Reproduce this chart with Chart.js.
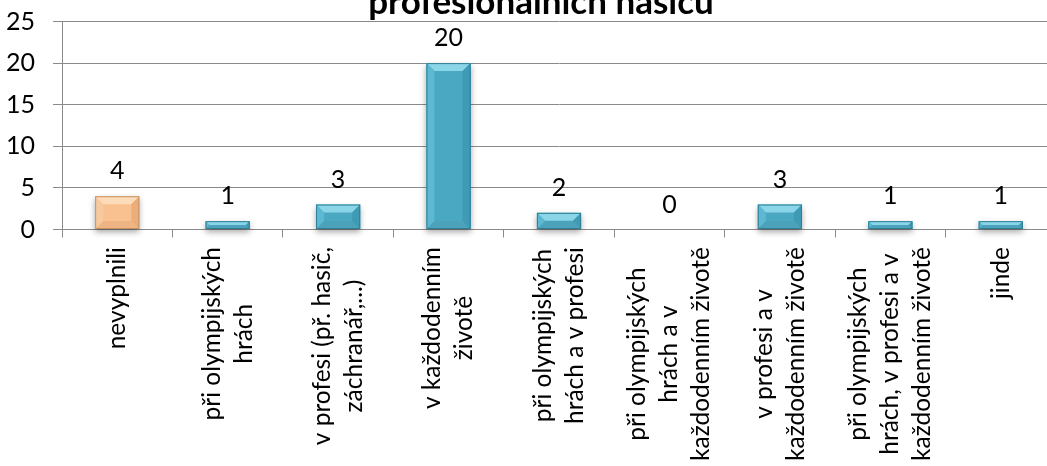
<!DOCTYPE html>
<html>
<head>
<meta charset="utf-8">
<style>
  html, body { margin: 0; padding: 0; background: #ffffff; overflow: hidden; width: 1047px; height: 466px; }
  #wrap { width: 1082px; height: 466px; }
  canvas { display: block; }
</style>
<script src="https://cdn.jsdelivr.net/npm/chart.js@4.4.0/dist/chart.umd.min.js"></script>
</head>
<body>
<div id="wrap"><canvas id="chart" width="1082" height="466"></canvas></div>
<script>
// Survey answers: where the respondents meet the work of professional firefighters
const titleText = 'profesionálních hasičů';

const categories = [
  'nevyplnili',
  ['při olympijských', 'hrách'],
  ['v profesi (př. hasič,', 'záchranář,...)'],
  ['v každodenním', 'životě'],
  ['při olympijských', 'hrách a v profesi'],
  ['při olympijských', 'hrách a v', 'každodenním životě'],
  ['v profesi a v', 'každodenním životě'],
  ['při olympijských', 'hrách, v profesi a v', 'každodenním životě'],
  'jinde'
];

const counts = [4, 1, 3, 20, 2, 0, 3, 1, 1];

const yTicks = [0, 5, 10, 15, 20, 25];

// Bevelled bar looks: the unanswered group is peach, all the rest aqua
const peach = { fill: '#F9C190', top: '#FDDCBA', left: '#F7C9A0', right: '#EBAE7B', bottom: '#EEB483', edge: '#C8925F' };
const aqua  = { fill: '#4AA8C2', top: '#8AD6E8', left: '#5CB9D1', right: '#3F9AB3', bottom: '#4CA2BA', edge: '#2E7F95' };
const barStyles = counts.map((v, i) => (i === 0 ? peach : aqua));

const FONT = 'Lato';
const GRID = '#8a8a8a';

function poly(ctx, pts, color) {
  ctx.beginPath();
  ctx.moveTo(pts[0][0], pts[0][1]);
  for (let k = 1; k < pts.length; k++) ctx.lineTo(pts[k][0], pts[k][1]);
  ctx.closePath();
  ctx.fillStyle = color;
  ctx.fill();
}

// title line, centred on the canvas; its upper part runs off the top edge
const titlePlugin = {
  id: 'topTitle',
  afterDraw(chart) {
    const ctx = chart.ctx;
    ctx.save();
    ctx.font = 'bold 35px ' + FONT;
    ctx.fillStyle = '#000';
    ctx.textAlign = 'center';
    ctx.textBaseline = 'alphabetic';
    ctx.fillText(titleText, chart.width / 2, 13.5);
    ctx.restore();
  }
};

// soft drop shadow under the bars
const shadowPlugin = {
  id: 'barShadow',
  beforeDatasetDraw(chart) {
    const ctx = chart.ctx;
    ctx.save();
    ctx.shadowColor = 'rgba(0,0,0,0.35)';
    ctx.shadowBlur = 6;
    ctx.shadowOffsetY = 3;
  },
  afterDatasetDraw(chart) {
    chart.ctx.restore();
  }
};

// bevel faces, outline and value labels on top of each bar
const bevelPlugin = {
  id: 'bevel',
  afterDatasetsDraw(chart) {
    const ctx = chart.ctx;
    const meta = chart.getDatasetMeta(0);
    ctx.save();
    meta.data.forEach((bar, i) => {
      const { x, y, base, width } = bar.getProps(['x', 'y', 'base', 'width'], true);
      const L = x - width / 2, R = x + width / 2;
      const T = Math.min(y, base), B = Math.max(y, base);
      const h = B - T;
      if (h > 0.5) {
        const st = barStyles[i];
        const b = Math.min(8, h / 2, width / 2);
        poly(ctx, [[L, T], [R, T], [R - b, T + b], [L + b, T + b]], st.top);
        poly(ctx, [[L, B], [R, B], [R - b, B - b], [L + b, B - b]], st.bottom);
        poly(ctx, [[L, T], [L + b, T + b], [L + b, B - b], [L, B]], st.left);
        poly(ctx, [[R, T], [R - b, T + b], [R - b, B - b], [R, B]], st.right);
        ctx.strokeStyle = st.edge;
        ctx.lineWidth = 1;
        ctx.strokeRect(L + 0.5, T + 0.5, width - 1, h - 1);
      }
      ctx.fillStyle = '#000';
      ctx.font = '25px ' + FONT;
      ctx.textAlign = 'center';
      ctx.textBaseline = 'alphabetic';
      ctx.fillText(String(counts[i]), x, y - 17);
    });
    ctx.restore();
  }
};

// vertical category labels, lines centred on each other
const xLabelPlugin = {
  id: 'xLabels',
  afterDraw(chart) {
    const ctx = chart.ctx;
    const xs = chart.scales.x;
    ctx.save();
    ctx.font = '24.5px ' + FONT;
    ctx.fillStyle = '#000';
    ctx.textAlign = 'center';
    ctx.textBaseline = 'middle';
    categories.forEach((lab, i) => {
      const lines = Array.isArray(lab) ? lab : [lab];
      const w = Math.max(...lines.map(l => ctx.measureText(l).width));
      const cx = xs.getPixelForValue(i);
      const cy = xs.top + 17.5 + w / 2;
      ctx.save();
      ctx.translate(cx, cy);
      ctx.rotate(-Math.PI / 2);
      lines.forEach((l, j) => ctx.fillText(l, 0, (j - (lines.length - 1) / 2) * 32));
      ctx.restore();
    });
    ctx.restore();
  }
};

function build() {
  new Chart(document.getElementById('chart'), {
    type: 'bar',
    data: {
      labels: categories,
      datasets: [{
        data: counts,
        backgroundColor: barStyles.map(s => s.fill),
        borderWidth: 0,
        barPercentage: 0.4,
        categoryPercentage: 1.0,
        clip: false
      }]
    },
    options: {
      responsive: false,
      animation: false,
      devicePixelRatio: 1,
      layout: { padding: { left: 0, right: 26, top: 21.5, bottom: 0 } },
      plugins: {
        legend: { display: false },
        tooltip: { enabled: false },
        title: { display: false }
      },
      scales: {
        x: {
          grid: { display: true, drawOnChartArea: false, drawTicks: true, tickLength: 8, color: GRID, offset: true },
          border: { display: true, color: GRID },
          ticks: { display: false },
          afterFit(scale) { scale.height = 236.5; }
        },
        y: {
          min: 0,
          max: 25,
          afterBuildTicks(scale) { scale.ticks = yTicks.map(v => ({ value: v })); },
          ticks: { color: '#000', font: { family: FONT, size: 25 }, padding: 18 },
          grid: { color: GRID, tickLength: 9 },
          border: { display: true, color: GRID },
          afterFit(scale) {
            scale.width = 62;
            scale.paddingTop = 0;
            scale.paddingBottom = 0;
          }
        }
      }
    },
    plugins: [shadowPlugin, bevelPlugin, xLabelPlugin, titlePlugin]
  });
}

if (document.fonts && document.fonts.load) {
  Promise.all([
    document.fonts.load('25px ' + FONT),
    document.fonts.load('bold 35px ' + FONT)
  ]).then(build, build);
} else {
  build();
}
</script>
</body>
</html>
